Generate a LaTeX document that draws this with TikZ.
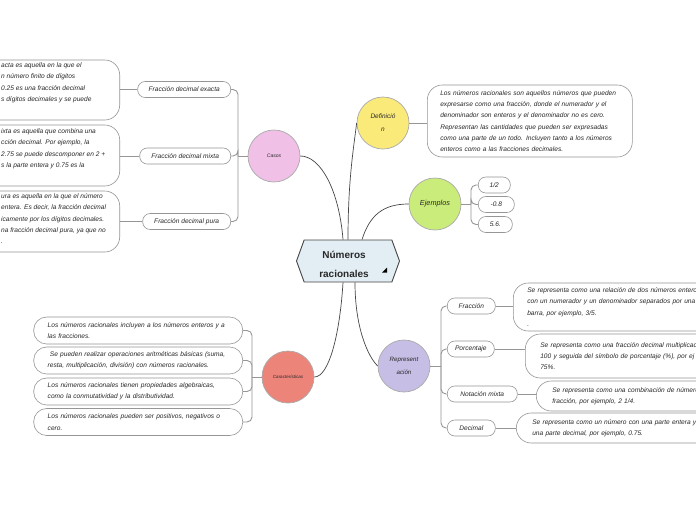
\documentclass[tikz,border=0pt]{standalone}
\usepackage{fontspec}
\setmainfont{Liberation Sans}
\usepackage{tikz}
\usetikzlibrary{positioning,shapes.symbols,calc}
\definecolor{casocol}{RGB}{240,192,230}
\definecolor{defcol}{RGB}{250,234,122}
\definecolor{ejecol}{RGB}{202,236,122}
\definecolor{repcol}{RGB}{198,190,228}
\definecolor{carcol}{RGB}{236,132,122}
\definecolor{rootcol}{RGB}{226,238,244}
\definecolor{rimgray}{RGB}{170,170,170}
\definecolor{boxgray}{RGB}{150,150,150}
\definecolor{linkgray}{RGB}{70,70,70}
\definecolor{inkgray}{RGB}{40,40,40}

\begin{document}
\begin{tikzpicture}[x=1pt, y=-1pt,
  every node/.style={font=\fontsize{6.6}{11.3}\selectfont\itshape, text=inkgray},
  topic/.style={circle, draw=rimgray, line width=0.7pt, minimum size=52pt, inner sep=0pt, align=center},
  pill/.style={rectangle, rounded corners=7.5pt, draw=boxgray, line width=0.6pt, minimum height=16pt, inner sep=0pt},
  note/.style={rectangle, rounded corners=15pt, draw=boxgray, line width=0.6pt, align=left},
  notetext/.style={align=left, inner sep=0pt, anchor=north west},
  link/.style={draw=linkgray, line width=0.7pt},
  spine/.style={draw=boxgray, line width=0.9pt, rounded corners=5pt}
]
  \useasboundingbox (0,0) rectangle (696,520);
  \clip (0,0) rectangle (696,520);
  \fill[white] (0,0) rectangle (696,520);

  \node[signal, signal to=west and east, signal pointer angle=140, draw=linkgray, fill=rootcol,
        line width=0.9pt, minimum width=103pt, minimum height=42pt, inner sep=0pt, align=center,
        font=\fontsize{10}{19}\selectfont\bfseries] (root) at (348,261) {};
  \node[align=center, inner sep=0pt, font=\fontsize{10}{19}\selectfont\bfseries] (rootT) at (344,264) {Números\\racionales};
  \fill[black] (382,272.5) -- (387,272.5) -- (387,267.5) -- cycle;

  \node[topic, fill=casocol, font=\fontsize{5}{6}\selectfont\itshape] (casos) at (274,156) {Casos};
  \node[topic, fill=defcol, font=\fontsize{6.5}{13}\selectfont\itshape] (def) at (383,123) {Definició\\n};
  \node[topic, fill=ejecol, font=\fontsize{7.3}{9}\selectfont\itshape] (eje) at (435,204) {Ejemplos};
  \node[topic, fill=repcol, font=\fontsize{6.2}{13}\selectfont\itshape] (rep) at (404,366) {Represent\\ación};
  \node[topic, fill=carcol, font=\fontsize{4.5}{6}\selectfont\itshape] (car) at (288,377) {Características};

  \draw[link] ([xshift=-5pt]root.north) .. controls +(-4,-50) and +(20,0) .. (casos.east);
  \draw[link] (root.north) .. controls +(0,-60) and +(-3,25) .. (def.west);
  \draw[link] ([xshift=14pt]root.north) .. controls +(8,-25) and +(-25,0) .. (eje.west);
  \draw[link] ([xshift=-5pt]root.south) .. controls +(-3,50) and +(15,0) .. (car.east);
  \draw[link] ([xshift=7pt]root.south) .. controls +(0,45) and +(-10,-10) .. (rep.west);

  % Casos
  \node[pill, anchor=east, minimum width=93pt] (exacta) at (231,89.5) {Fracción decimal exacta};
  \node[pill, anchor=east, minimum width=91pt] (mixta) at (231,156) {Fracción decimal mixta};
  \node[pill, anchor=east, minimum width=88pt] (pura) at (231,221.5) {Fracción decimal pura};
  \coordinate (cj) at (238,156);
  \draw[spine] (casos.west) -- (cj);
  \foreach \n in {exacta,mixta,pura}
    \draw[spine] (cj) |- (\n.east);

  \node[note, minimum width=200pt, minimum height=60pt, anchor=east] (exactaB) at (120,90) {};
  \node[notetext] (exactaT) at (1,62.5) {acta es aquella en la que el\\
    n número finito de dígitos\\
    0.25 es una fracción decimal\\
    s dígitos decimales y se puede};
  \node[note, minimum width=200pt, minimum height=61pt, anchor=east] (mixtaB) at (120,155.5) {};
  \node[notetext] (mixtaT) at (1,128.5) {ixta es aquella que combina una\\
    cción decimal. Por ejemplo, la\\
    2.75 se puede descomponer en 2 +\\
    s la parte entera y 0.75 es la};
  \node[note, minimum width=200pt, minimum height=61pt, anchor=east] (puraB) at (120,221.5) {};
  \node[notetext] (puraT) at (1,193.5) {ura es aquella en la que el número\\
    entera. Es decir, la fracción decimal\\
    icamente por los dígitos decimales.\\
    na fracción decimal pura, ya que no\\
    .};
  \draw[spine] (exacta.west) -- (exacta.west -| exactaB.east);
  \draw[spine] (mixta.west) -- (mixta.west -| mixtaB.east);
  \draw[spine] (pura.west) -- (pura.west -| puraB.east);

  % Definicion
  \node[note, text width=179pt, inner xsep=13pt, minimum height=72pt, anchor=west] (defT) at (427,121) {%
    Los números racionales son aquellos números que pueden\\
    expresarse como una fracción, donde el numerador y el\\
    denominador son enteros y el denominador no es cero.\\
    Representan las cantidades que pueden ser expresadas\\
    como una parte de un todo. Incluyen tanto a los números\\
    enteros como a las fracciones decimales.};
  \draw[spine] (def.east) -- (def.east -| defT.west);

  % Ejemplos
  \node[pill, anchor=west, minimum width=32pt] (half) at (478,185) {1/2};
  \node[pill, anchor=west, minimum width=36pt] (neg) at (478,204.5) {-0.8};
  \node[pill, anchor=west, minimum width=34pt] (dec) at (478,224.5) {5.6.};
  \coordinate (ej) at (471,204);
  \draw[spine] (eje.east) -- (ej);
  \foreach \n in {half,neg,dec}
    \draw[spine] (ej) |- (\n.west);

  % Representacion
  \node[pill, anchor=west, minimum width=48pt] (fra) at (447,306) {Fracción};
  \node[pill, anchor=west, minimum width=47pt] (por) at (447,349) {Porcentaje};
  \node[pill, anchor=west, minimum width=70pt] (nota) at (447,394) {Notación mixta};
  \node[pill, anchor=west, minimum width=48pt] (deci) at (447,428) {Decimal};
  \coordinate (rj) at (441,366);
  \draw[spine] (rep.east) -- (rj);
  \foreach \n in {fra,por,nota,deci}
    \draw[spine] (rj) |- (\n.west);

  \node[note, text width=220pt, inner xsep=14pt, minimum height=48pt, anchor=west] (fraT) at (513,307) {%
    Se representa como una relación de dos números enteros\\
    con un numerador y un denominador separados por una\\
    barra, por ejemplo, 3/5.\\
    .};
  \node[note, text width=220pt, inner xsep=15pt, minimum height=44pt, anchor=west] (porT) at (525,356) {%
    Se representa como una fracción decimal multiplicada\\
    100 y seguida del símbolo de porcentaje (\%), por ej\\
    75\%.};
  \node[note, text width=220pt, inner xsep=16pt, minimum height=30pt, anchor=west] (notaT) at (536,396) {%
    Se representa como una combinación de número\\
    fracción, por ejemplo, 2 1/4.};
  \node[note, text width=220pt, inner xsep=16pt, minimum height=30pt, anchor=west] (deciT) at (516,428) {%
    Se representa como un número con una parte entera y\\
    una parte decimal, por ejemplo, 0.75.};
  \draw[spine] (fra.east) -- (fra.east -| fraT.west);
  \draw[spine] (por.east) -- (por.east -| porT.west);
  \draw[spine] (nota.east) -- (nota.east -| notaT.west);
  \draw[spine] (deci.east) -- (deci.east -| deciT.west);

  % Caracteristicas
  \node[note, text width=181pt, inner xsep=14pt, minimum height=27pt, rounded corners=13pt, anchor=east] (car1) at (243,330.5) {%
    Los números racionales incluyen a los números enteros y a\\
    las fracciones.};
  \node[note, text width=181pt, inner xsep=14pt, minimum height=27pt, rounded corners=13pt, anchor=east] (car2) at (243,360.5) {%
    \ Se pueden realizar operaciones aritméticas básicas (suma,\\
    resta, multiplicación, división) con números racionales.};
  \node[note, text width=181pt, inner xsep=14pt, minimum height=27pt, rounded corners=13pt, anchor=east] (car3) at (243,391.5) {%
    Los números racionales tienen propiedades algebraicas,\\
    como la conmutatividad y la distributividad.};
  \node[note, text width=181pt, inner xsep=14pt, minimum height=27pt, rounded corners=13pt, anchor=east] (car4) at (243,422) {%
    Los números racionales pueden ser positivos, negativos o\\
    cero.};
  \coordinate (kj) at (252,377);
  \draw[spine] (car.west) -- (kj);
  \foreach \n in {car1,car2,car3,car4}
    \draw[spine] (kj) |- (\n.east);
\end{tikzpicture}
\end{document}
